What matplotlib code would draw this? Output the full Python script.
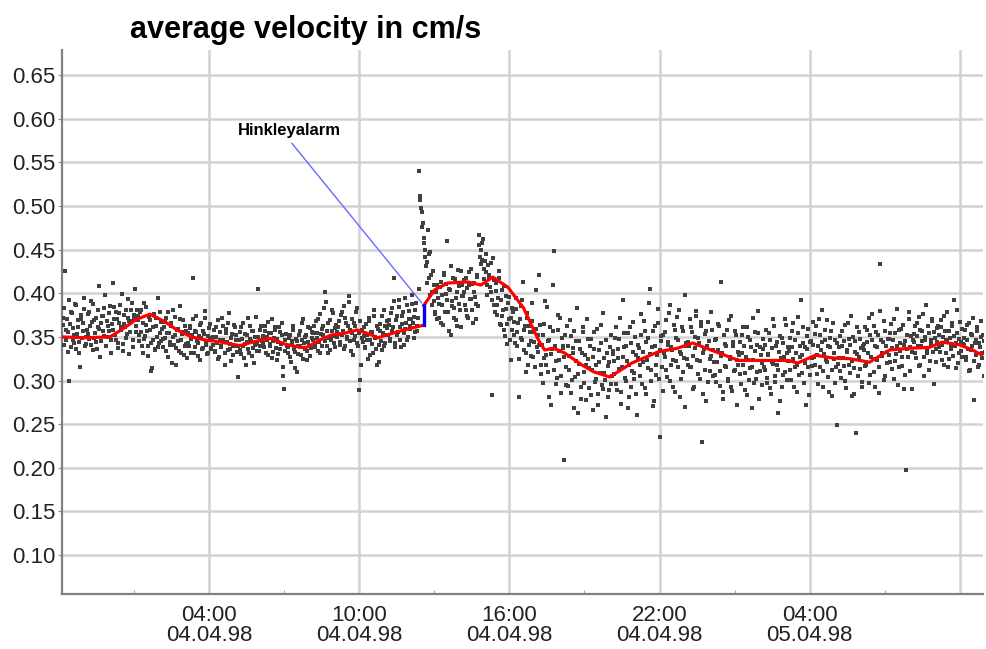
import numpy as np
import matplotlib
matplotlib.use("Agg")
import matplotlib.pyplot as plt

# hours since 00:00 on 04.04.98; readings every 3 minutes, 20 per row (one row per hour)
t_start = -1.85
t_step = 0.05
velocity_rows = [
    [0.372, 0.341, 0.426, 0.358, 0.333, 0.299, 0.365, 0.379, 0.347, 0.352, 0.388, 0.336, 0.361, 0.344, 0.315, 0.370, 0.357, 0.382, 0.339, 0.350],
    [0.376, 0.348, 0.362, 0.391, 0.335, 0.369, 0.355, 0.344, 0.381, 0.359, 0.327, 0.366, 0.374, 0.351, 0.398, 0.340, 0.363, 0.357, 0.385, 0.346],
    [0.412, 0.371, 0.352, 0.379, 0.343, 0.366, 0.387, 0.358, 0.334, 0.375, 0.361, 0.349, 0.393, 0.368, 0.356, 0.381, 0.338, 0.372, 0.405, 0.363],
    [0.369, 0.345, 0.378, 0.356, 0.332, 0.389, 0.351, 0.364, 0.340, 0.373, 0.358, 0.311, 0.347, 0.376, 0.336, 0.362, 0.395, 0.343, 0.354, 0.367],
    [0.338, 0.361, 0.349, 0.372, 0.327, 0.355, 0.344, 0.366, 0.381, 0.341, 0.352, 0.318, 0.359, 0.334, 0.370, 0.347, 0.356, 0.329, 0.363, 0.342],
    [0.355, 0.339, 0.362, 0.348, 0.417, 0.331, 0.357, 0.374, 0.343, 0.351, 0.324, 0.366, 0.337, 0.353, 0.380, 0.345, 0.332, 0.360, 0.349, 0.336],
    [0.341, 0.358, 0.333, 0.350, 0.369, 0.327, 0.346, 0.338, 0.362, 0.344, 0.318, 0.355, 0.335, 0.377, 0.342, 0.349, 0.329, 0.364, 0.339, 0.352],
    [0.304, 0.347, 0.335, 0.361, 0.340, 0.326, 0.353, 0.344, 0.372, 0.331, 0.348, 0.357, 0.337, 0.320, 0.350, 0.342, 0.405, 0.334, 0.358, 0.345],
    [0.351, 0.338, 0.363, 0.346, 0.329, 0.355, 0.342, 0.370, 0.333, 0.349, 0.358, 0.324, 0.344, 0.361, 0.336, 0.352, 0.316, 0.290, 0.347, 0.339],
    [0.332, 0.349, 0.327, 0.341, 0.358, 0.336, 0.314, 0.345, 0.330, 0.352, 0.339, 0.366, 0.325, 0.343, 0.350, 0.334, 0.361, 0.340, 0.328, 0.356],
    [0.347, 0.362, 0.338, 0.355, 0.371, 0.344, 0.331, 0.359, 0.352, 0.383, 0.401, 0.340, 0.366, 0.349, 0.335, 0.357, 0.377, 0.343, 0.360, 0.350],
    [0.353, 0.368, 0.341, 0.379, 0.357, 0.336, 0.372, 0.348, 0.362, 0.390, 0.345, 0.355, 0.329, 0.366, 0.351, 0.383, 0.340, 0.289, 0.301, 0.358],
    [0.344, 0.361, 0.337, 0.352, 0.325, 0.368, 0.346, 0.356, 0.332, 0.374, 0.349, 0.318, 0.359, 0.341, 0.365, 0.335, 0.354, 0.381, 0.343, 0.360],
    [0.352, 0.369, 0.345, 0.383, 0.361, 0.417, 0.338, 0.374, 0.356, 0.392, 0.347, 0.365, 0.378, 0.341, 0.359, 0.386, 0.350, 0.371, 0.363, 0.398],
    [0.366, 0.349, 0.381, 0.357, 0.372, 0.540, 0.507, 0.493, 0.481, 0.463, 0.450, 0.436, 0.472, 0.418, 0.447, 0.402, 0.425, 0.391, 0.378, 0.410],
    [0.395, 0.372, 0.413, 0.386, 0.364, 0.421, 0.399, 0.460, 0.378, 0.405, 0.352, 0.391, 0.417, 0.383, 0.369, 0.402, 0.427, 0.388, 0.361, 0.409],
    [0.397, 0.415, 0.381, 0.406, 0.372, 0.424, 0.393, 0.411, 0.366, 0.402, 0.388, 0.419, 0.385, 0.467, 0.450, 0.438, 0.462, 0.428, 0.445, 0.409],
    [0.432, 0.418, 0.401, 0.283, 0.440, 0.387, 0.412, 0.375, 0.395, 0.426, 0.364, 0.404, 0.381, 0.358, 0.397, 0.342, 0.389, 0.370, 0.323, 0.383],
    [0.378, 0.352, 0.395, 0.340, 0.366, 0.281, 0.385, 0.347, 0.413, 0.358, 0.331, 0.372, 0.318, 0.363, 0.345, 0.389, 0.327, 0.356, 0.404, 0.338],
    [0.352, 0.421, 0.318, 0.341, 0.297, 0.365, 0.329, 0.384, 0.310, 0.347, 0.272, 0.336, 0.357, 0.448, 0.322, 0.303, 0.375, 0.334, 0.286, 0.349],
    [0.339, 0.209, 0.315, 0.362, 0.294, 0.328, 0.351, 0.301, 0.337, 0.268, 0.322, 0.383, 0.308, 0.345, 0.279, 0.331, 0.356, 0.297, 0.318, 0.370],
    [0.325, 0.291, 0.348, 0.312, 0.266, 0.336, 0.302, 0.359, 0.284, 0.321, 0.343, 0.295, 0.377, 0.309, 0.258, 0.331, 0.317, 0.289, 0.352, 0.305],
    [0.334, 0.307, 0.361, 0.289, 0.326, 0.348, 0.273, 0.315, 0.392, 0.338, 0.299, 0.322, 0.355, 0.281, 0.343, 0.311, 0.367, 0.302, 0.329, 0.260],
    [0.341, 0.318, 0.376, 0.296, 0.333, 0.357, 0.285, 0.324, 0.349, 0.405, 0.312, 0.338, 0.271, 0.362, 0.306, 0.329, 0.382, 0.235, 0.345, 0.315],
    [0.352, 0.327, 0.369, 0.304, 0.341, 0.386, 0.318, 0.335, 0.293, 0.358, 0.322, 0.373, 0.346, 0.281, 0.330, 0.361, 0.310, 0.398, 0.339, 0.325],
    [0.344, 0.371, 0.316, 0.356, 0.290, 0.337, 0.380, 0.323, 0.349, 0.302, 0.362, 0.230, 0.331, 0.353, 0.276, 0.340, 0.367, 0.311, 0.328, 0.358],
    [0.335, 0.306, 0.348, 0.321, 0.365, 0.294, 0.413, 0.331, 0.279, 0.342, 0.316, 0.358, 0.300, 0.327, 0.374, 0.288, 0.339, 0.312, 0.352, 0.324],
    [0.318, 0.344, 0.296, 0.332, 0.361, 0.309, 0.327, 0.283, 0.350, 0.314, 0.338, 0.269, 0.323, 0.356, 0.302, 0.341, 0.380, 0.311, 0.329, 0.295],
    [0.336, 0.312, 0.358, 0.297, 0.329, 0.347, 0.284, 0.321, 0.370, 0.305, 0.339, 0.318, 0.263, 0.351, 0.326, 0.292, 0.343, 0.310, 0.364, 0.331],
    [0.322, 0.349, 0.301, 0.338, 0.366, 0.315, 0.331, 0.287, 0.354, 0.327, 0.392, 0.309, 0.343, 0.320, 0.272, 0.336, 0.359, 0.306, 0.345, 0.317],
    [0.341, 0.318, 0.362, 0.329, 0.296, 0.352, 0.335, 0.381, 0.311, 0.346, 0.323, 0.369, 0.304, 0.338, 0.357, 0.282, 0.332, 0.347, 0.315, 0.249],
    [0.326, 0.351, 0.303, 0.339, 0.317, 0.364, 0.291, 0.333, 0.348, 0.309, 0.374, 0.322, 0.285, 0.345, 0.240, 0.330, 0.356, 0.313, 0.337, 0.298],
    [0.335, 0.361, 0.318, 0.344, 0.297, 0.352, 0.327, 0.376, 0.310, 0.340, 0.356, 0.323, 0.286, 0.433, 0.347, 0.331, 0.368, 0.305, 0.339, 0.320],
    [0.348, 0.321, 0.365, 0.337, 0.302, 0.354, 0.330, 0.382, 0.316, 0.343, 0.359, 0.327, 0.290, 0.345, 0.197, 0.336, 0.371, 0.311, 0.351, 0.333],
    [0.344, 0.362, 0.326, 0.351, 0.373, 0.318, 0.339, 0.357, 0.305, 0.347, 0.386, 0.331, 0.354, 0.322, 0.342, 0.368, 0.296, 0.349, 0.336, 0.360],
    [0.352, 0.333, 0.369, 0.341, 0.318, 0.357, 0.346, 0.378, 0.325, 0.349, 0.336, 0.362, 0.392, 0.340, 0.314, 0.355, 0.331, 0.367, 0.344, 0.327],
    [0.341, 0.358, 0.324, 0.347, 0.366, 0.312, 0.335, 0.352, 0.278, 0.343, 0.329, 0.361, 0.318, 0.338, 0.350, 0.326, 0.345, 0.333, 0.357, 0.320],
]
# second sensor pass, sampled 1.5 minutes after each reading above
velocity_rows_b = [
    [0.364, 0.383, 0.347, 0.371, 0.356, 0.392, 0.338, 0.377, 0.360, 0.343, 0.386, 0.353, 0.369, 0.331, 0.375, 0.349, 0.366, 0.395, 0.342, 0.358],
    [0.353, 0.379, 0.341, 0.367, 0.388, 0.349, 0.372, 0.336, 0.361, 0.408, 0.345, 0.374, 0.357, 0.383, 0.339, 0.368, 0.350, 0.377, 0.332, 0.365],
    [0.358, 0.384, 0.346, 0.370, 0.337, 0.377, 0.361, 0.399, 0.342, 0.365, 0.381, 0.353, 0.372, 0.330, 0.368, 0.389, 0.347, 0.375, 0.356, 0.381],
    [0.374, 0.352, 0.381, 0.339, 0.366, 0.348, 0.384, 0.357, 0.328, 0.369, 0.343, 0.314, 0.361, 0.335, 0.372, 0.350, 0.338, 0.378, 0.345, 0.359],
    [0.348, 0.367, 0.334, 0.355, 0.378, 0.341, 0.362, 0.320, 0.350, 0.373, 0.337, 0.358, 0.345, 0.385, 0.331, 0.353, 0.369, 0.340, 0.357, 0.326],
    [0.343, 0.360, 0.331, 0.352, 0.370, 0.338, 0.356, 0.345, 0.328, 0.364, 0.349, 0.336, 0.357, 0.372, 0.341, 0.330, 0.351, 0.365, 0.337, 0.346],
    [0.350, 0.334, 0.361, 0.343, 0.325, 0.356, 0.339, 0.372, 0.347, 0.331, 0.359, 0.344, 0.366, 0.336, 0.322, 0.353, 0.340, 0.361, 0.347, 0.333],
    [0.339, 0.356, 0.330, 0.348, 0.366, 0.342, 0.318, 0.352, 0.336, 0.363, 0.345, 0.328, 0.357, 0.341, 0.373, 0.334, 0.350, 0.339, 0.362, 0.347],
    [0.343, 0.357, 0.332, 0.350, 0.367, 0.339, 0.354, 0.326, 0.345, 0.361, 0.337, 0.348, 0.330, 0.356, 0.342, 0.366, 0.305, 0.334, 0.353, 0.340],
    [0.338, 0.352, 0.321, 0.345, 0.362, 0.333, 0.348, 0.310, 0.340, 0.357, 0.329, 0.346, 0.371, 0.336, 0.352, 0.324, 0.344, 0.360, 0.337, 0.349],
    [0.355, 0.341, 0.368, 0.349, 0.334, 0.376, 0.353, 0.339, 0.362, 0.345, 0.390, 0.357, 0.332, 0.369, 0.346, 0.381, 0.351, 0.338, 0.364, 0.356],
    [0.361, 0.344, 0.375, 0.352, 0.385, 0.339, 0.366, 0.350, 0.397, 0.358, 0.334, 0.371, 0.347, 0.362, 0.378, 0.343, 0.355, 0.368, 0.318, 0.349],
    [0.351, 0.338, 0.365, 0.347, 0.372, 0.329, 0.356, 0.342, 0.381, 0.350, 0.336, 0.363, 0.321, 0.357, 0.345, 0.374, 0.339, 0.362, 0.352, 0.368],
    [0.364, 0.348, 0.377, 0.357, 0.391, 0.343, 0.369, 0.352, 0.384, 0.361, 0.338, 0.374, 0.355, 0.395, 0.366, 0.347, 0.380, 0.359, 0.371, 0.388],
    [0.373, 0.356, 0.389, 0.362, 0.405, 0.512, 0.498, 0.476, 0.458, 0.442, 0.431, 0.412, 0.445, 0.398, 0.421, 0.386, 0.409, 0.376, 0.401, 0.371],
    [0.388, 0.407, 0.366, 0.398, 0.423, 0.379, 0.411, 0.392, 0.357, 0.404, 0.431, 0.385, 0.372, 0.416, 0.394, 0.362, 0.408, 0.381, 0.425, 0.397],
    [0.402, 0.386, 0.417, 0.374, 0.409, 0.393, 0.428, 0.381, 0.412, 0.396, 0.370, 0.421, 0.455, 0.441, 0.433, 0.458, 0.416, 0.437, 0.424, 0.398],
    [0.421, 0.407, 0.435, 0.392, 0.415, 0.379, 0.403, 0.386, 0.418, 0.365, 0.392, 0.374, 0.408, 0.351, 0.382, 0.365, 0.396, 0.346, 0.372, 0.358],
    [0.367, 0.343, 0.382, 0.356, 0.325, 0.371, 0.349, 0.392, 0.335, 0.362, 0.310, 0.377, 0.341, 0.356, 0.328, 0.368, 0.344, 0.315, 0.359, 0.333],
    [0.341, 0.364, 0.307, 0.352, 0.326, 0.391, 0.318, 0.345, 0.281, 0.361, 0.330, 0.409, 0.312, 0.339, 0.296, 0.358, 0.323, 0.372, 0.305, 0.337],
    [0.327, 0.352, 0.295, 0.340, 0.312, 0.369, 0.286, 0.331, 0.357, 0.304, 0.345, 0.263, 0.319, 0.336, 0.292, 0.361, 0.310, 0.329, 0.278, 0.348],
    [0.314, 0.339, 0.283, 0.327, 0.356, 0.298, 0.318, 0.272, 0.335, 0.309, 0.364, 0.290, 0.326, 0.301, 0.347, 0.281, 0.321, 0.338, 0.296, 0.330],
    [0.322, 0.349, 0.296, 0.336, 0.313, 0.372, 0.287, 0.327, 0.354, 0.303, 0.340, 0.268, 0.318, 0.361, 0.292, 0.333, 0.309, 0.350, 0.285, 0.326],
    [0.337, 0.305, 0.352, 0.321, 0.368, 0.291, 0.344, 0.314, 0.389, 0.330, 0.299, 0.357, 0.277, 0.340, 0.318, 0.366, 0.302, 0.335, 0.351, 0.288],
    [0.331, 0.356, 0.312, 0.344, 0.377, 0.299, 0.338, 0.323, 0.364, 0.287, 0.349, 0.316, 0.381, 0.333, 0.302, 0.357, 0.326, 0.270, 0.343, 0.318],
    [0.339, 0.315, 0.361, 0.328, 0.292, 0.350, 0.374, 0.307, 0.343, 0.322, 0.367, 0.284, 0.336, 0.312, 0.357, 0.298, 0.345, 0.325, 0.379, 0.305],
    [0.321, 0.346, 0.298, 0.335, 0.362, 0.311, 0.328, 0.287, 0.352, 0.317, 0.340, 0.302, 0.369, 0.325, 0.293, 0.344, 0.311, 0.357, 0.272, 0.333],
    [0.329, 0.307, 0.352, 0.318, 0.340, 0.289, 0.361, 0.324, 0.301, 0.346, 0.315, 0.372, 0.297, 0.334, 0.310, 0.355, 0.279, 0.338, 0.320, 0.348],
    [0.315, 0.341, 0.303, 0.330, 0.355, 0.291, 0.337, 0.319, 0.362, 0.298, 0.344, 0.312, 0.333, 0.276, 0.349, 0.306, 0.327, 0.371, 0.301, 0.338],
    [0.334, 0.312, 0.357, 0.325, 0.293, 0.347, 0.318, 0.373, 0.306, 0.340, 0.329, 0.361, 0.297, 0.338, 0.351, 0.315, 0.283, 0.344, 0.326, 0.367],
    [0.327, 0.353, 0.308, 0.339, 0.371, 0.316, 0.344, 0.293, 0.330, 0.358, 0.321, 0.340, 0.287, 0.349, 0.312, 0.366, 0.325, 0.297, 0.343, 0.319],
    [0.338, 0.311, 0.357, 0.326, 0.345, 0.299, 0.335, 0.366, 0.318, 0.341, 0.282, 0.350, 0.314, 0.333, 0.361, 0.305, 0.327, 0.348, 0.292, 0.339],
    [0.342, 0.317, 0.358, 0.331, 0.372, 0.306, 0.346, 0.325, 0.363, 0.292, 0.338, 0.352, 0.315, 0.380, 0.328, 0.344, 0.301, 0.357, 0.333, 0.348],
    [0.329, 0.355, 0.313, 0.346, 0.370, 0.322, 0.340, 0.295, 0.358, 0.334, 0.317, 0.364, 0.341, 0.306, 0.352, 0.327, 0.378, 0.338, 0.290, 0.347],
    [0.353, 0.331, 0.366, 0.340, 0.317, 0.358, 0.345, 0.376, 0.327, 0.350, 0.336, 0.363, 0.312, 0.347, 0.371, 0.333, 0.356, 0.321, 0.344, 0.362],
    [0.338, 0.361, 0.323, 0.350, 0.374, 0.332, 0.346, 0.315, 0.357, 0.339, 0.366, 0.328, 0.351, 0.343, 0.381, 0.320, 0.348, 0.334, 0.359, 0.342],
    [0.349, 0.327, 0.364, 0.336, 0.311, 0.353, 0.340, 0.372, 0.322, 0.346, 0.357, 0.316, 0.343, 0.368, 0.331, 0.352, 0.305, 0.339, 0.361, 0.334],
]

# moving average, before and after the alarm jump
avg_hours_a = [-1.87, -1.0, 0.05, 0.6, 1.1, 1.64, 2.2, 2.72, 3.3, 3.92, 4.28, 5.24, 5.6, 6.32, 6.48,
               7.0, 7.63, 7.91, 8.4, 8.87, 9.4, 9.91, 10.43, 10.75, 11.2, 11.8, 12.58]
avg_vals_a = [0.350, 0.349, 0.350, 0.360, 0.370, 0.376, 0.368, 0.358, 0.350, 0.346, 0.345, 0.340, 0.343, 0.348, 0.348,
              0.342, 0.338, 0.338, 0.346, 0.352, 0.354, 0.358, 0.353, 0.349, 0.353, 0.358, 0.3635]
avg_hours_b = [12.58, 13.02, 13.54, 14.34, 14.86, 15.34, 15.94, 16.57, 17.17, 17.41, 17.77, 18.21, 18.89, 19.37,
               20.01, 20.89, 21.96, 22.72, 23.32, 24.24, 25.16, 26.2, 27.15, 27.51, 28.23, 28.87, 29.6, 30.39,
               31.19, 32.0, 32.78, 33.3, 33.98, 34.5, 35.02]
avg_vals_b = [0.386, 0.404, 0.4117, 0.413, 0.4094, 0.4185, 0.407, 0.383, 0.346, 0.335, 0.337, 0.3315, 0.318, 0.310,
              0.304, 0.320, 0.333, 0.337, 0.343, 0.333, 0.323, 0.323, 0.323, 0.320, 0.329, 0.326, 0.325, 0.321,
              0.335, 0.337, 0.338, 0.344, 0.341, 0.335, 0.327]

alarm_label = "Hinkleyalarm"
alarm_label_pos = (7.23, 0.586)
alarm_line_start = (7.31, 0.572)
alarm_point = (12.50, 0.389)

tick_hours = [4, 10, 16, 22, 28, 34]
tick_labels = ["04:00\n04.04.98", "10:00\n04.04.98", "16:00\n04.04.98",
               "22:00\n04.04.98", "04:00\n05.04.98", ""]
minor_hours = [1, 7, 13, 19, 25, 31]
y_ticks = [0.10, 0.15, 0.20, 0.25, 0.30, 0.35, 0.40, 0.45, 0.50, 0.55, 0.60, 0.65]

plt.rcParams['font.family'] = ['Liberation Sans', 'DejaVu Sans']

values_a = np.concatenate([np.array(r) for r in velocity_rows])
values_b = np.concatenate([np.array(r) for r in velocity_rows_b])
hours_a = t_start + t_step * np.arange(len(values_a))
hours_b = t_start + t_step / 2 + t_step * np.arange(len(values_b))
hours = np.concatenate([hours_a, hours_b])
values = np.concatenate([values_a, values_b])

fig = plt.figure(figsize=(9.86, 6.49), dpi=100)
ax = fig.add_axes([0.0629, 0.0847, 0.934, 0.838])

ax.plot(hours, values, 's', color='#404040', ms=2.3, mew=0, zorder=3)
ax.plot(avg_hours_a, avg_vals_a, color='#ff0000', lw=2.3, zorder=4)
ax.plot(avg_hours_b, avg_vals_b, color='#ff0000', lw=2.3, zorder=4)
ax.plot([avg_hours_a[-1], avg_hours_b[0]], [avg_vals_a[-1], avg_vals_b[0]], color='#0000ff', lw=2.4, zorder=5)

ax.annotate("", xy=alarm_point, xytext=alarm_line_start,
            arrowprops=dict(arrowstyle='-', color='#6a6aff', lw=1.0, shrinkA=0, shrinkB=0))
ax.text(alarm_label_pos[0], alarm_label_pos[1], alarm_label, ha='center', va='center',
        fontsize=12, fontweight='bold')

ax.set_xlim(-1.87, 34.92)
ax.set_ylim(0.0553, 0.6786)
ax.set_xticks(tick_hours)
ax.set_xticklabels(tick_labels, fontsize=16, color='#222222', linespacing=0.95)
ax.set_xticks(minor_hours, minor=True)
ax.set_yticks(y_ticks)
ax.set_yticklabels([f"{v:.2f}" for v in y_ticks], fontsize=16, color='#222222')

ax.grid(True, which='major', color='#d2d2d2', lw=1.8)
ax.set_axisbelow(True)
ax.tick_params(axis='x', which='major', length=0, pad=8)
ax.tick_params(axis='x', which='minor', length=3, direction='in', color='#909090')
ax.tick_params(axis='y', length=3, color='#909090', pad=2)
for side in ['top', 'right']:
    ax.spines[side].set_visible(False)
for side in ['left', 'bottom']:
    ax.spines[side].set_color('#808080')
    ax.spines[side].set_linewidth(1.6)

fig.text(130 / 986, 1 - 30 / 649, "average velocity in cm/s", fontsize=22, fontweight='bold',
         ha='left', va='center')

fig.savefig("out.png", dpi=100, facecolor='white')
